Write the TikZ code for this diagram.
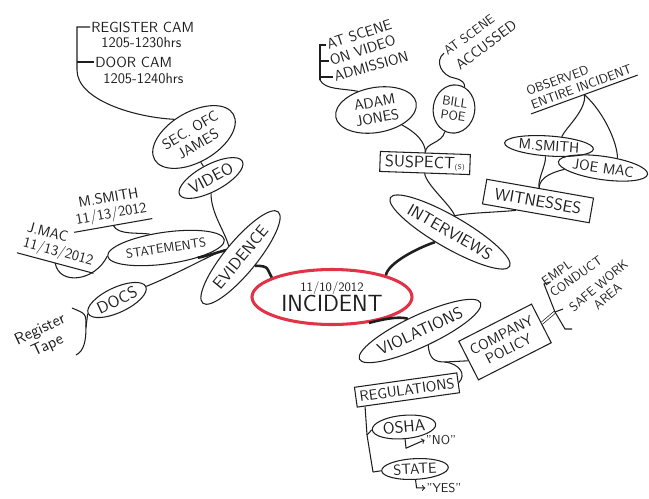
\documentclass[tikz,border=0pt]{standalone}
\usepackage{tikz}
\usetikzlibrary{shapes.geometric, arrows, calc}
\definecolor{inkred}{RGB}{226,50,72}
\definecolor{ink}{RGB}{30,30,30}

\begin{document}
\begin{tikzpicture}[
    x=0.03cm, y=-0.03cm, % one unit = one pixel of the sketch, y runs down
    >=to,
    txt/.style={font=\sffamily\fontsize{11}{12}\selectfont, text=ink, align=center, inner sep=1pt},
    midtxt/.style={font=\sffamily\fontsize{12.5}{13.5}\selectfont},
    bigtxt/.style={font=\sffamily\fontsize{14}{15}\selectfont},
    bubble/.style={ellipse, draw=ink, line width=0.9pt, inner sep=0pt, txt},
    tagbox/.style={rectangle, draw=ink, line width=0.9pt, inner sep=1pt, txt},
    hub/.style={ellipse, draw=inkred, line width=2.6pt, inner sep=0pt, txt},
    branch/.style={draw=ink, line width=0.9pt},
    trunk/.style={draw=ink, line width=2.2pt}
]
    \useasboundingbox (0,0) rectangle (649,498);

    % centre
    \node[hub, minimum width=4.8cm, minimum height=1.65cm] (incident) at (332,297)
        {{\fontsize{11}{12}\selectfont 11/10/2012}\\[-1pt]{\fontsize{20}{21}\selectfont INCIDENT}};

    % evidence side
    \node[bubble, bigtxt, rotate=50.5, minimum width=3.55cm, minimum height=0.96cm] (evidence) at (240.5,257.5) {EVIDENCE};
    \node[bubble, bigtxt, rotate=28, minimum width=1.95cm, minimum height=0.8cm] (video) at (211,178) {VIDEO};
    \node[bubble, midtxt, rotate=30, minimum width=2.65cm, minimum height=1.5cm] (secofc) at (194,137) {SEC. OFC\\JAMES};
    \node[bubble, rotate=8, minimum width=2.95cm, minimum height=0.95cm] (statements) at (166,248) {STATEMENTS};
    \node[bubble, bigtxt, rotate=25, minimum width=1.65cm, minimum height=0.75cm] (docs) at (117,300) {DOCS};

    % camera notes
    \node[txt, midtxt, anchor=west] (regcam) at (90,27) {REGISTER CAM};
    \node[txt, midtxt, anchor=west] (regcamhrs) at (100,43) {1205-1230hrs};
    \node[txt, midtxt, anchor=west] (doorcam) at (94,62) {DOOR CAM};
    \node[txt, midtxt, anchor=west] (doorcamhrs) at (102,79) {1205-1240hrs};
    \coordinate (cambrk) at (77,70);

    % statement and tape notes
    \node[txt, midtxt, rotate=10, inner sep=3pt] (msmithstmt) at (110,207) {M.SMITH\\11/13/2012};
    \node[txt, midtxt, rotate=-15, align=left, inner sep=3pt] (jmacstmt) at (60,245) {J.MAC\\11/13/2012};
    \node[txt, bigtxt, rotate=25] (regtape) at (44,338) {Register\\Tape};
    \coordinate (tapetop) at (72,308);
    \coordinate (tapebrk) at (86,327);
    \coordinate (tapebot) at (76,355);

    % interviews side
    \node[bubble, bigtxt, rotate=-30, minimum width=3.9cm, minimum height=0.95cm] (interviews) at (450,232) {INTERVIEWS};
    \node[tagbox, bigtxt, rotate=-2, minimum width=2.7cm, minimum height=0.6cm] (suspect) at (425,163) {SUSPECT{\fontsize{6}{6}\selectfont(S)}};
    \node[tagbox, bigtxt, rotate=-10, minimum width=3.25cm, minimum height=0.75cm] (witnesses) at (538,201) {WITNESSES};
    \node[bubble, midtxt, rotate=-4, minimum width=2.55cm, minimum height=0.6cm] (msmith) at (549,146) {M.SMITH};
    \node[bubble, midtxt, rotate=-8, minimum width=2.65cm, minimum height=0.7cm] (joemac) at (603,168) {JOE MAC};
    \node[txt, rotate=20, align=left, inner sep=3pt] (observed) at (579,80) {OBSERVED\\ENTIRE INCIDENT};
    \node[bubble, midtxt, rotate=10, minimum width=2.45cm, minimum height=1.35cm] (adam) at (376,110) {ADAM\\JONES};
    \node[bubble, rotate=-8, minimum width=1.25cm, minimum height=1.45cm] (billpoe) at (454,109) {BILL\\POE};

    \node[txt, midtxt, rotate=18, anchor=west] (adamscene) at (326,45) {AT SCENE};
    \node[txt, midtxt, rotate=18, anchor=west] (adamvideo) at (329,61) {ON VIDEO};
    \node[txt, midtxt, rotate=16, anchor=west] (adamadmit) at (333,77) {ADMISSION};
    \coordinate (adambrk) at (320,80);
    \node[txt, rotate=36] (billscene) at (469,35) {AT SCENE};
    \node[txt, midtxt, rotate=37] (billaccused) at (486,45) {ACCUSSED};
    \coordinate (billbend) at (454,78);

    % violations side
    \node[bubble, bigtxt, rotate=25, minimum width=3.8cm, minimum height=0.95cm] (violations) at (420,331) {VIOLATIONS};
    \node[tagbox, midtxt, rotate=27, minimum width=2.45cm, minimum height=1.3cm] (policy) at (505,342) {COMPANY\\POLICY};
    \node[txt, rotate=35, align=left] (emplconduct) at (572,271) {EMPL\\CONDUCT};
    \node[txt, rotate=40] (safework) at (603,291) {SAFE WORK\\AREA};
    \coordinate (polbrktop) at (544,284);
    \coordinate (polbrk) at (555,312);
    \coordinate (polbrkbot) at (565,329);
    \coordinate (violfork) at (445,362);
    \node[tagbox, midtxt, rotate=8, minimum width=3.1cm, minimum height=0.6cm] (regulations) at (407,390) {REGULATIONS};
    \node[bubble, bigtxt, rotate=5, minimum width=1.9cm, minimum height=0.7cm] (osha) at (404,427) {OSHA};
    \node[bubble, midtxt, rotate=3, minimum width=2cm, minimum height=0.62cm] (state) at (415,469) {STATE};
    \node[txt] (no) at (441,440) {"NO"};
    \node[txt] (yes) at (444,488) {"YES"};
    \coordinate (regspine) at ($(regulations.south west)!0.08!(regulations.south east)$);
    \coordinate (oshafork) at (367,435);
    \coordinate (statefork) at (373,472);

    % main links
    \path[trunk] (evidence.-80) .. controls +(15,0) and +(-5,-8) .. (incident.162);
    \path[trunk] (interviews.-116) .. controls +(-18,6) and +(2,-12) .. (incident.22);
    \path[trunk] (incident.-35) .. controls +(12,-3) and +(-10,-3) .. (violations.110);
    \path[trunk] (statements.-25) .. controls +(10,-2) and +(-8,2) .. (evidence.105);

    % evidence links
    \path[branch] (video.-118) .. controls +(0,20) and +(-4,-15) .. (evidence.85);
    \path[branch] (docs.east) .. controls +(30,-12) and +(-20,8) .. (evidence.100);
    \path[branch] (secofc.-105) -- (video.95);
    \path[branch] (regcam.west) -| (cambrk) .. controls +(0,30) and +(-40,-2) .. (secofc.108);
    \path[branch] (doorcam.west) -- (doorcam.west -| cambrk);
    \path[branch] (msmithstmt.south west) -- (msmithstmt.south east);
    \path[branch] (msmithstmt.south) .. controls +(5,10) and +(-12,-2) .. (statements.131);
    \path[branch] (jmacstmt.south west) -- (jmacstmt.south east);
    \path[branch] (jmacstmt.south) .. controls +(4,23) and +(-12,25) .. (statements.west);
    \path[branch] (tapetop) .. controls +(14,6) and +(0,-14) .. (tapebrk) .. controls +(0,14) and +(8,-4) .. (tapebot);
    \path[branch] (tapebrk) -- (docs.west);

    % interviews links
    \path[branch] (suspect.south) .. controls +(2,12) and +(-3,-10) .. (interviews.104);
    \path[branch] (witnesses.-147) .. controls +(-20,2) and +(12,-3) .. (interviews.104);
    \path[branch] (witnesses.95) .. controls +(-2,-8) and +(1,8) .. (msmith.-105);
    \path[branch] (witnesses.95) .. controls +(0,-12) and +(-8,2) .. (joemac.190);
    \path[branch] (observed.south west) -- (observed.south east);
    \path[branch] (observed.south) .. controls +(3,15) and +(3,-8) .. (msmith.40);
    \path[branch] (observed.south) .. controls +(20,18) and +(0,-15) .. (joemac.42);
    \path[branch] (adam.-40) .. controls +(15,8) and +(0,-10) .. (suspect.north);
    \path[branch] (billpoe.-104) .. controls +(-3,12) and +(0,-10) .. (suspect.north);
    \path[branch] (adamscene.west) -| (adambrk);
    \path[branch] (adamvideo.west) -- (adamvideo.west -| adambrk);
    \path[branch] (adamadmit.west) -- (adamadmit.west -| adambrk);
    \path[branch] (adambrk) .. controls +(5,10) and +(-15,-3) .. (adam.124);
    \path[branch] (billscene.west) .. controls +(-10,8) and +(-12,-2) .. (billbend) .. controls +(9,2) and +(0,-4) .. (billpoe.72);

    % violations links
    \path[branch] (violations.-85) .. controls +(1,14) and +(-10,0) .. (violfork) -- (policy.west);
    \path[branch] (violfork) .. controls +(15,2) and +(8,-8) .. (regulations.east);
    \path[branch, double=white, double distance=1.3pt, line width=0.6pt] (policy.east) -- (polbrk);
    \path[branch] ($(polbrktop)+(6,-2)$) -- (polbrktop) -- (polbrk) -- (polbrkbot) -- ++(7,0);
    \path[branch] (polbrk) -- ++(8,-3);
    \path[branch] (regspine) -- (oshafork) -- (statefork);
    \path[branch] (oshafork) -- (osha.west);
    \path[branch] (statefork) -- (state.west);
    \path[branch, ->] (osha.south) -- ++(1,9) -- (no.west);
    \path[branch, ->] (state.south) -- ++(1,8) -- (yes.west);
\end{tikzpicture}
\end{document}
